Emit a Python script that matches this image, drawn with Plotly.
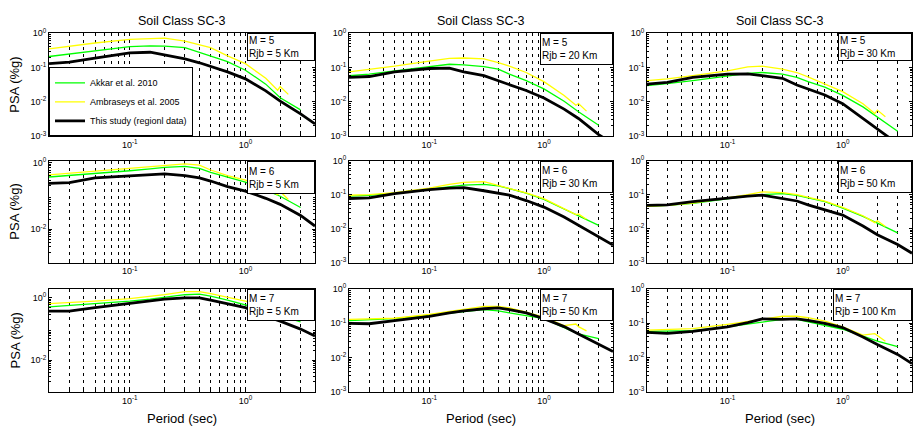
import plotly.graph_objects as go

# ---------------- data ----------------
T_AK = [0.02, 0.03, 0.05, 0.1, 0.15, 0.2, 0.3, 0.4, 0.5, 0.7, 1.0, 1.5, 2.0, 3.0]
T_AM = [0.02, 0.03, 0.05, 0.1, 0.15, 0.2, 0.3, 0.4, 0.5, 0.7, 1.0, 1.5, 1.9, 2.0, 2.35]
T_TS = [0.02, 0.03, 0.05, 0.1, 0.15, 0.2, 0.3, 0.4, 0.5, 0.7, 1.0, 1.5, 2.0, 3.0, 4.0]

panel_M = [5, 5, 5, 6, 6, 6, 7, 7, 7]
panel_R = [5, 20, 30, 5, 30, 50, 5, 50, 100]

akkar = [
    [0.21, 0.25, 0.31, 0.41, 0.43, 0.42, 0.38, 0.28, 0.22, 0.15, 0.084, 0.033, 0.0132, 0.0059],
    [0.058, 0.065, 0.08, 0.107, 0.125, 0.12, 0.107, 0.09, 0.065, 0.042, 0.024, 0.0105, 0.0052, 0.0021],
    [0.030, 0.034, 0.042, 0.058, 0.068, 0.072, 0.065, 0.052, 0.039, 0.027, 0.0155, 0.0072, 0.0037, 0.0014],
    [0.37, 0.41, 0.49, 0.57, 0.65, 0.72, 0.77, 0.67, 0.51, 0.37, 0.26, 0.15, 0.098, 0.045],
    [0.09, 0.095, 0.11, 0.145, 0.17, 0.19, 0.2, 0.18, 0.15, 0.11, 0.072, 0.038, 0.024, 0.0125],
    [0.045, 0.048, 0.055, 0.077, 0.09, 0.1, 0.107, 0.095, 0.081, 0.062, 0.04, 0.023, 0.0146, 0.0075],
    [0.52, 0.57, 0.66, 0.79, 0.92, 1.07, 1.27, 1.33, 1.15, 0.85, 0.59, 0.40, 0.27, 0.17],
    [0.12, 0.125, 0.136, 0.17, 0.2, 0.22, 0.25, 0.23, 0.2, 0.17, 0.137, 0.075, 0.049, 0.036],
    [0.058, 0.059, 0.061, 0.079, 0.095, 0.11, 0.13, 0.13, 0.11, 0.09, 0.067, 0.042, 0.03, 0.021],
]
ambraseys = [
    [0.35, 0.42, 0.52, 0.66, 0.70, 0.72, 0.59, 0.47, 0.38, 0.22, 0.13, 0.049, 0.022, 0.028, 0.0166],
    [0.075, 0.088, 0.11, 0.155, 0.185, 0.19, 0.18, 0.14, 0.11, 0.072, 0.039, 0.0155, 0.008, 0.009, 0.0054],
    [0.042, 0.047, 0.058, 0.08, 0.105, 0.11, 0.09, 0.072, 0.054, 0.033, 0.02, 0.0089, 0.0046, 0.0058, 0.0037],
    [0.43, 0.48, 0.57, 0.69, 0.77, 0.84, 0.92, 0.84, 0.6, 0.41, 0.30, 0.17, 0.11, 0.136, 0.078],
    [0.096, 0.1, 0.115, 0.155, 0.2, 0.23, 0.24, 0.185, 0.155, 0.112, 0.076, 0.04, 0.026, 0.027, 0.019],
    [0.045, 0.048, 0.056, 0.079, 0.1, 0.12, 0.115, 0.1, 0.085, 0.064, 0.042, 0.024, 0.015, 0.017, 0.0115],
    [0.66, 0.7, 0.79, 0.95, 1.1, 1.27, 1.6, 1.6, 1.37, 1.07, 0.79, 0.55, 0.42, 0.45, 0.3],
    [0.13, 0.135, 0.14, 0.18, 0.22, 0.25, 0.31, 0.31, 0.28, 0.21, 0.15, 0.085, 0.095, 0.08, 0.06],
    [0.063, 0.066, 0.07, 0.093, 0.11, 0.13, 0.16, 0.16, 0.145, 0.116, 0.079, 0.045, 0.05, 0.044, 0.03],
]
this_study = [
    [0.13, 0.145, 0.19, 0.27, 0.28, 0.23, 0.18, 0.138, 0.11, 0.075, 0.047, 0.021, 0.0106, 0.0045, 0.0023],
    [0.052, 0.055, 0.075, 0.094, 0.097, 0.075, 0.058, 0.042, 0.032, 0.0215, 0.013, 0.0062, 0.0033, 0.00112, 0.0006],
    [0.033, 0.037, 0.052, 0.065, 0.066, 0.058, 0.049, 0.031, 0.024, 0.016, 0.0089, 0.0032, 0.0016, 0.0006, 0.0003],
    [0.24, 0.25, 0.35, 0.41, 0.44, 0.46, 0.41, 0.35, 0.28, 0.19, 0.14, 0.085, 0.056, 0.026, 0.0125],
    [0.077, 0.08, 0.107, 0.14, 0.155, 0.16, 0.13, 0.11, 0.096, 0.067, 0.043, 0.022, 0.0125, 0.0058, 0.0033],
    [0.048, 0.05, 0.062, 0.081, 0.09, 0.097, 0.078, 0.065, 0.05, 0.036, 0.025, 0.012, 0.0066, 0.0034, 0.0019],
    [0.38, 0.38, 0.49, 0.66, 0.78, 0.91, 1.0, 1.0, 0.85, 0.66, 0.49, 0.26, 0.18, 0.1, 0.06],
    [0.1, 0.097, 0.12, 0.16, 0.2, 0.23, 0.265, 0.28, 0.25, 0.2, 0.136, 0.08, 0.049, 0.025, 0.015],
    [0.054, 0.051, 0.058, 0.079, 0.105, 0.135, 0.13, 0.135, 0.122, 0.1, 0.075, 0.04, 0.024, 0.0124, 0.0067],
]

series_names = ["Akkar et al. 2010", "Ambraseys et al. 2005", "This study (regionl data)"]
series_colors = ["#00FF00", "#FFFF00", "#000000"]
series_widths = [1.3, 1.3, 2.8]

title_text = "Soil Class SC-3"
x_title = "Period (sec)"
y_title = "PSA (%g)"

# ---------------- layout geometry ----------------
W, H = 914, 431
col_px = [(49, 315), (349, 613), (647, 912)]
row_px = [(27, 133), (158, 263), (290, 396)]
box_w = [68, 73, 74, 68, 73, 74, 68, 73, 79]
box_h = [28, 32, 28, 33, 32, 32, 32, 32, 32]
y_ranges = [[-3, 0], [-3, 0], [-3, 0],
            [-3, 0.06], [-3, 0], [-3, 0],
            [-3.02, 0.29], [-3, 0], [-3, 0]]

FONT = "Liberation Sans, Arial, sans-serif"

x_minor = [0.03, 0.04, 0.05, 0.06, 0.07, 0.08, 0.09,
           0.2, 0.3, 0.4, 0.5, 0.6, 0.7, 0.8, 0.9, 2, 3]
y_minor = []
for d in [0.001, 0.01, 0.1, 1]:
    for k in range(2, 10):
        y_minor.append(d * k)

fig = go.Figure()
layout = dict(
    width=W, height=H,
    margin=dict(l=0, r=0, t=0, b=0),
    paper_bgcolor="white", plot_bgcolor="white",
    font=dict(family=FONT, color="black", size=9),
    showlegend=True,
    legend=dict(
        x=49 / W, y=1 - 133 / H, xanchor="left", yanchor="bottom",
        bgcolor="white", bordercolor="black", borderwidth=1,
        font=dict(family=FONT, size=9, color="black"),
        tracegroupgap=0, itemwidth=30,
    ),
)
annotations = []

for i in range(9):
    r, c = divmod(i, 3)
    n = "" if i == 0 else str(i + 1)
    x0, x1 = col_px[c]
    y0, y1 = row_px[r]
    xd = [x0 / W, x1 / W]
    yd = [1 - y1 / H, 1 - y0 / H]

    if i in (3, 6):
        ytv = [0.01, 1]
        ytt = ["10<sup>-2</sup>", "10<sup>0</sup>"]
    else:
        ytv = [0.001, 0.01, 0.1, 1]
        ytt = ["10<sup>-3</sup>", "10<sup>-2</sup>", "10<sup>-1</sup>", "10<sup>0</sup>"]

    layout["xaxis" + n] = dict(
        type="log", domain=xd, range=[-1.699, 0.602], anchor="y" + n,
        showline=True, linecolor="black", linewidth=1, mirror="ticks",
        ticks="inside", ticklen=3, tickcolor="black",
        tickvals=[0.1, 1], ticktext=["10<sup>-1</sup>", "10<sup>0</sup>"],
        tickfont=dict(family=FONT, size=9, color="black"),
        showgrid=True, gridcolor="black", gridwidth=1, griddash="3px,4px",
        minor=dict(tickvals=x_minor, ticks="inside", ticklen=2, tickcolor="black",
                   showgrid=True, gridcolor="black", gridwidth=1, griddash="3px,4px"),
        zeroline=False, fixedrange=True,
    )
    layout["yaxis" + n] = dict(
        type="log", domain=yd, range=y_ranges[i], anchor="x" + n,
        showline=True, linecolor="black", linewidth=1, mirror="ticks",
        ticks="inside", ticklen=3, tickcolor="black",
        tickvals=ytv, ticktext=ytt,
        tickfont=dict(family=FONT, size=9, color="black"),
        showgrid=False,
        minor=dict(tickvals=y_minor, ticks="inside", ticklen=2, tickcolor="black", showgrid=False),
        zeroline=False, fixedrange=True,
    )

    periods = [T_AK, T_AM, T_TS]
    values = [akkar[i], ambraseys[i], this_study[i]]
    for s in range(3):
        fig.add_trace(go.Scatter(
            x=periods[s], y=values[s], mode="lines",
            line=dict(color=series_colors[s], width=series_widths[s]),
            name=series_names[s], showlegend=(i == 0),
            xaxis="x" + n, yaxis="y" + n, hoverinfo="skip",
        ))

    bw, bh = box_w[i], box_h[i]
    annotations.append(dict(
        xref="x" + n + " domain", yref="y" + n + " domain", x=1, y=1,
        xanchor="right", yanchor="top",
        text="M = %d<br>Rjb = %d Km" % (panel_M[i], panel_R[i]),
        showarrow=False, align="left", valign="middle",
        width=bw - 4, height=bh - 4, borderpad=1,
        bgcolor="white", bordercolor="black", borderwidth=1,
        font=dict(family=FONT, size=10, color="black"),
    ))

    if r == 0:
        annotations.append(dict(
            xref="paper", yref="paper", x=(x0 + x1) / 2 / W, y=1 - 14 / H,
            xanchor="center", yanchor="middle", text=title_text, showarrow=False,
            font=dict(family=FONT, size=12.5, color="black"),
        ))
    if c == 0:
        annotations.append(dict(
            xref="paper", yref="paper", x=15 / W, y=1 - (y0 + y1) / 2 / H,
            xanchor="center", yanchor="middle", text=y_title, showarrow=False,
            textangle=-90, font=dict(family=FONT, size=13, color="black"),
        ))
    if r == 2:
        annotations.append(dict(
            xref="paper", yref="paper", x=(x0 + x1) / 2 / W, y=1 - 423 / H,
            xanchor="center", yanchor="middle", text=x_title, showarrow=False,
            font=dict(family=FONT, size=13, color="black"),
        ))

layout["annotations"] = annotations
fig.update_layout(**layout)
fig.write_html("out.html")
